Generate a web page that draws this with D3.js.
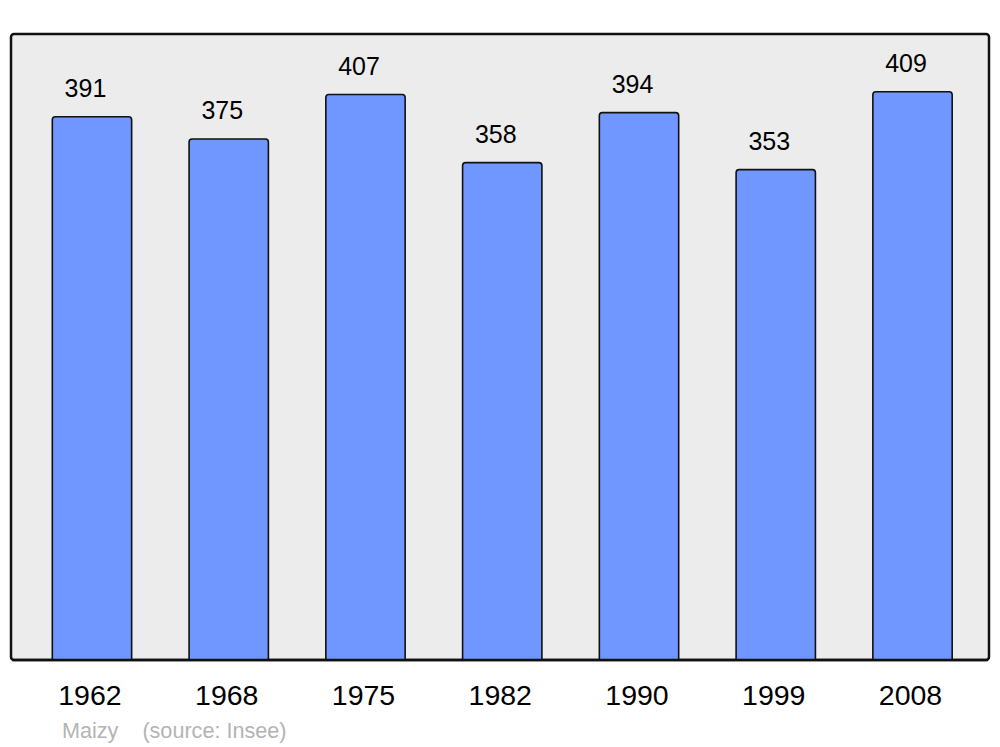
<!DOCTYPE html>
<html>
<head>
<meta charset="utf-8">
<script src="https://cdn.jsdelivr.net/npm/d3@7"></script>
<style>
  body { margin: 0; background: #fff; }
  text { font-family: "Liberation Sans", Arial, sans-serif; }
</style>
</head>
<body>
<svg id="chart" width="1000" height="747"></svg>
<script>
var years = ["1962", "1968", "1975", "1982", "1990", "1999", "2008"];
var population = [391, 375, 407, 358, 394, 353, 409];
var commune = "Maizy";
var source = "(source: Insee)";

var svg = d3.select("#chart");

var panel = { left: 11, top: 34, right: 989, bottom: 660 };

// background panel
svg.append("rect")
    .attr("x", panel.left)
    .attr("y", panel.top)
    .attr("width", panel.right - panel.left)
    .attr("height", panel.bottom - panel.top)
    .attr("rx", 3)
    .attr("fill", "#ececec")
    .attr("stroke", "#111")
    .attr("stroke-width", 2.5);

var x = d3.scaleBand()
    .domain(years)
    .range([23.6, 980.9])
    .paddingInner(0.42)
    .paddingOuter(0.21);

var y = d3.scaleLinear()
    .domain([0, d3.max(population) * 1.1])
    .range([panel.bottom, panel.top]);

var data = years.map(function(d, i) { return { year: d, value: population[i] }; });

// bars, rounded on top only
function barPath(d) {
    var x0 = x(d.year), x1 = x0 + x.bandwidth(), y0 = y(d.value) + 0.8, yb = panel.bottom, r = 3;
    return "M" + x0 + "," + yb +
        "V" + (y0 + r) +
        "Q" + x0 + "," + y0 + " " + (x0 + r) + "," + y0 +
        "H" + (x1 - r) +
        "Q" + x1 + "," + y0 + " " + x1 + "," + (y0 + r) +
        "V" + yb;
}

svg.selectAll(".bar")
    .data(data)
    .enter()
    .append("path")
    .attr("class", "bar")
    .attr("d", barPath)
    .attr("fill", "#7097ff")
    .attr("stroke", "#111")
    .attr("stroke-width", 1.6);

// value labels (sit a little left of the bar centre)
svg.selectAll(".val")
    .data(data)
    .enter()
    .append("text")
    .attr("class", "val")
    .attr("x", function(d) { return x(d.year) + x.bandwidth() / 2 - 6.5; })
    .attr("y", function(d) { return y(d.value) - 19; })
    .attr("text-anchor", "middle")
    .attr("font-size", "25px")
    .attr("fill", "#000")
    .text(function(d) { return d.value; });

// redraw panel bottom border over the bars
svg.append("line")
    .attr("x1", panel.left + 1)
    .attr("x2", panel.right - 1)
    .attr("y1", panel.bottom)
    .attr("y2", panel.bottom)
    .attr("stroke", "#111")
    .attr("stroke-width", 2.5);

// year labels
svg.selectAll(".year")
    .data(years)
    .enter()
    .append("text")
    .attr("class", "year")
    .attr("x", function(d) { return x(d) + x.bandwidth() / 2 - 2; })
    .attr("y", 705)
    .attr("text-anchor", "middle")
    .attr("font-size", "28.5px")
    .attr("fill", "#000")
    .text(function(d) { return d; });

// source line
svg.append("text")
    .attr("x", 62)
    .attr("y", 738)
    .attr("font-size", "21.6px")
    .attr("fill", "#b4b4b4")
    .attr("xml:space", "preserve")
    .style("white-space", "pre")
    .text(commune + "    " + source);
</script>
</body>
</html>
